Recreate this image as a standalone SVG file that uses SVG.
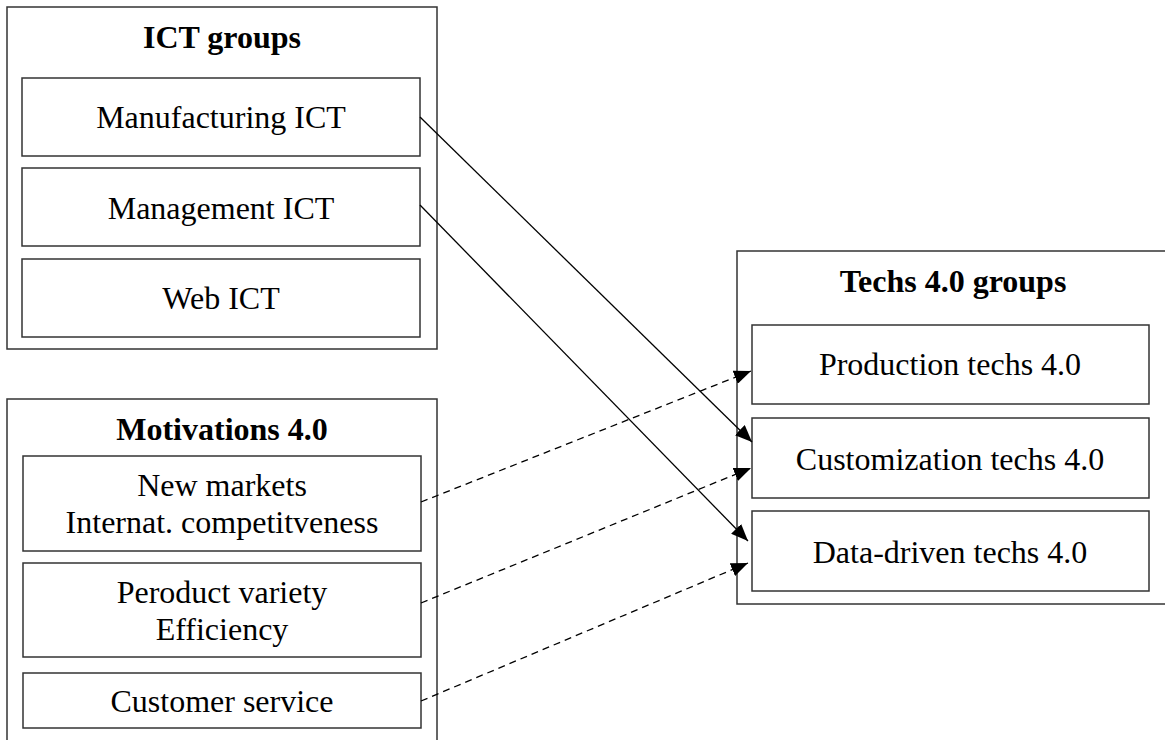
<svg xmlns="http://www.w3.org/2000/svg" width="1165" height="740" viewBox="0 0 1165 740">
<style>
.box{fill:#fff;stroke:#333;stroke-width:1.5}
.t{font-family:"Liberation Serif","Times New Roman",serif;font-size:32px;text-anchor:middle;fill:#000}
.b{font-weight:bold}
.c{fill:none;stroke:#000;stroke-width:1.3}
.d{stroke-dasharray:7,5}
</style>
<defs>
<marker id="ah" markerUnits="userSpaceOnUse" markerWidth="18" markerHeight="14" refX="17" refY="7" orient="auto">
<path d="M0,0 L17,7 L0,14 Z" fill="#000"/>
</marker>
</defs>
<rect width="1165" height="740" fill="#fff"/>
<g id="ict-groups">
<rect class="box" x="7" y="7" width="430" height="342"/>
<text class="t b" x="222" y="48">ICT groups</text>
</g>
<g id="manufacturing-ict">
<rect class="box" x="22" y="78" width="398" height="78"/>
<text class="t" x="221" y="128">Manufacturing ICT</text>
</g>
<g id="management-ict">
<rect class="box" x="22" y="168" width="398" height="78"/>
<text class="t" x="221" y="219">Management ICT</text>
</g>
<g id="web-ict">
<rect class="box" x="22" y="259" width="398" height="78"/>
<text class="t" x="221" y="309">Web ICT</text>
</g>
<g id="motivations">
<rect class="box" x="7" y="399" width="430" height="360"/>
<text class="t b" x="222" y="440">Motivations 4.0</text>
</g>
<g id="new-markets">
<rect class="box" x="23" y="456" width="398" height="95"/>
<text class="t" x="222" y="496">New markets</text>
<text class="t" x="222" y="533">Internat. competitveness</text>
</g>
<g id="product-variety">
<rect class="box" x="23" y="563" width="398" height="94"/>
<text class="t" x="222" y="603">Peroduct variety</text>
<text class="t" x="222" y="640">Efficiency</text>
</g>
<g id="customer-service">
<rect class="box" x="23" y="673" width="398" height="55"/>
<text class="t" x="222" y="712">Customer service</text>
</g>
<g id="techs-groups">
<rect class="box" x="737" y="251" width="460" height="353"/>
<text class="t b" x="953" y="292">Techs 4.0 groups</text>
</g>
<g id="production-techs">
<rect class="box" x="752" y="325" width="397" height="79"/>
<text class="t" x="950" y="375">Production techs 4.0</text>
</g>
<g id="customization-techs">
<rect class="box" x="752" y="418" width="397" height="80"/>
<text class="t" x="950" y="470">Customization techs 4.0</text>
</g>
<g id="data-driven-techs">
<rect class="box" x="752" y="511" width="397" height="80"/>
<text class="t" x="950" y="563">Data-driven techs 4.0</text>
</g>
<g id="connectors">
<line class="c" x1="420" y1="117" x2="752" y2="442" marker-end="url(#ah)"/>
<line class="c" x1="420" y1="205" x2="748" y2="541" marker-end="url(#ah)"/>
<line class="c d" x1="421" y1="502" x2="751" y2="371" marker-end="url(#ah)"/>
<line class="c d" x1="421" y1="603" x2="751" y2="468" marker-end="url(#ah)"/>
<line class="c d" x1="421" y1="701" x2="748" y2="563" marker-end="url(#ah)"/>
</g>
</svg>
